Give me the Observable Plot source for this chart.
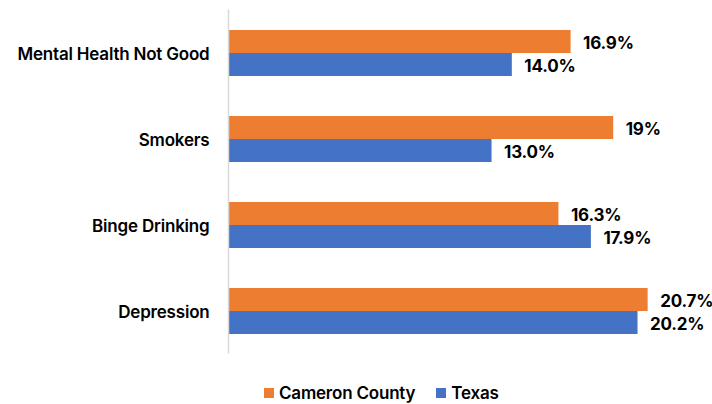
<!DOCTYPE html>
<html>
<head>
<meta charset="utf-8">
<script src="https://cdn.jsdelivr.net/npm/d3@7"></script>
<script src="https://cdn.jsdelivr.net/npm/@observablehq/plot@0.6"></script>
<style>
  body { margin: 0; background: #fff; font-family: Inter, sans-serif; }
  #legend { display: flex; align-items: center; height: 20px; margin-top: 21px; padding-left: 264px; font-size: 17px; font-weight: 600; color: #000; letter-spacing: -0.2px; }
  .item { display: flex; align-items: center; margin-right: 21px; }
  .sw { width: 10px; height: 10px; margin-right: 5px; }
</style>
</head>
<body>
<div id="chart"></div>
<div id="legend"></div>
<script>
const categories = ["Mental Health Not Good", "Smokers", "Binge Drinking", "Depression"];
const series = ["Cameron County", "Texas"];
const cameronValues = [16.9, 19, 16.3, 20.7];
const texasValues = [14.0, 13.0, 17.9, 20.2];
const cameronLabels = ["16.9%", "19%", "16.3%", "20.7%"];
const texasLabels = ["14.0%", "13.0%", "17.9%", "20.2%"];
const colors = ["#ED7D31", "#4472C4"];

const cameron = categories.map((c, i) => ({category: c, value: cameronValues[i], label: cameronLabels[i]}));
const texas = categories.map((c, i) => ({category: c, value: texasValues[i], label: texasLabels[i]}));

const font = "Inter, sans-serif";
const chart = Plot.plot({
  width: 712,
  height: 362,
  marginLeft: 228,
  marginRight: 38,
  marginTop: 9.5,
  marginBottom: 8.5,
  style: {fontFamily: font, background: "#fff", letterSpacing: "-0.2px"},
  x: {domain: [0, 22], axis: null},
  y: {domain: categories, padding: 0, axis: null},
  marks: [
    Plot.barX(cameron, {y: "category", x: "value", fill: colors[0], insetTop: 20, insetBottom: 43}),
    Plot.barX(texas, {y: "category", x: "value", fill: colors[1], insetTop: 43, insetBottom: 20}),
    Plot.ruleX([0], {stroke: "#d9d9d9", strokeWidth: 1.5}),
    Plot.text(cameron, {y: "category", x: "value", text: "label", dy: -9.5, dx: 12, textAnchor: "start", fontSize: 17, fontWeight: 700, fill: "#000"}),
    Plot.text(texas, {y: "category", x: "value", text: "label", dy: 13.5, dx: 12, textAnchor: "start", fontSize: 17, fontWeight: 700, fill: "#000"}),
    Plot.text(categories, {y: d => d, x: 0, text: d => d, dx: -19, dy: 1, textAnchor: "end", fontSize: 17, fontWeight: 600, fill: "#000"})
  ]
});
document.getElementById("chart").appendChild(chart);

const legend = document.getElementById("legend");
series.forEach((s, i) => {
  const it = document.createElement("div");
  it.className = "item";
  it.innerHTML = `<span class="sw" style="background:${colors[i]}"></span><span>${s}</span>`;
  legend.appendChild(it);
});
</script>
</body>
</html>
